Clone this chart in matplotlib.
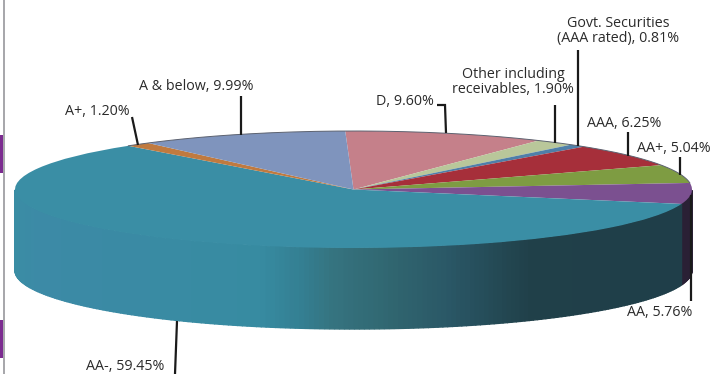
import numpy as np
import matplotlib
matplotlib.use("Agg")
import matplotlib.pyplot as plt
from matplotlib.colors import LinearSegmentedColormap
from matplotlib.patches import Rectangle

categories = ["D", "Other including\nreceivables", "Govt. Securities\n(AAA rated)",
              "AAA", "AA+", "AA", "AA-", "A+", "A & below"]
values = [9.60, 1.90, 0.81, 6.25, 5.04, 5.76, 59.45, 1.20, 9.99]
top_colors = ["#c5808a", "#b9c79a", "#4f7fa8", "#a62f3a", "#7e9c42", "#7b5090", "#3a8ea5", "#c07a3f", "#7f94bd"]

W, H = 712, 374
CX, CY, RX, RY, DEPTH = 353.5, 189.5, 338.5, 58.5, 81
START = 91.4

plt.rcParams["font.family"] = ["Open Sans", "DejaVu Sans"]
fig = plt.figure(figsize=(W / 100, H / 100), dpi=100, facecolor="white")

# base axes in pixel coordinates: rim of the pie and page decoration
base = fig.add_axes([0, 0, 1, 1], zorder=1)
base.set_xlim(0, W); base.set_ylim(H, 0); base.axis("off")
base.add_patch(Rectangle((3, 0), 2, H, color="#a8a8ac", lw=0))
for y0, y1 in [(135, 172.5), (320, 358)]:
    base.add_patch(Rectangle((0, y0), 3, y1 - y0, color="#7b2b8f", lw=0))

rim = LinearSegmentedColormap.from_list("rim", [
    (0.00, "#3a8da4"), (0.03, "#3c8aa6"), (0.36, "#378ba1"), (0.42, "#347f92"),
    (0.47, "#35737f"), (0.56, "#30656f"), (0.64, "#2a5766"), (0.76, "#204049"), (1.0, "#1f3e49")])

edges = START - np.cumsum([0] + values) * 3.6
for i, name in enumerate(categories):
    a0, a1 = edges[i + 1], edges[i]
    th = np.linspace(a0, a1, max(3, int((a1 - a0) * 1.2)))
    th = th[np.sin(np.radians(th)) <= 0]
    for t0, t1 in zip(th[:-1], th[1:]):
        x0, x1 = CX + RX * np.cos(np.radians([t0, t1]))
        y0, y1 = CY - RY * np.sin(np.radians([t0, t1]))
        col = "#2a2035" if name == "AA" else rim((min(x0, x1) - 15) / 677)
        base.fill([x0, x1, x1, x0], [y0, y1, y1 + DEPTH, y0 + DEPTH], color=col, lw=1.0, ec=col)

# top face
pie_ax = fig.add_axes([(CX - RX) / W, (H - CY - RY) / H, 2 * RX / W, 2 * RY / H], zorder=2)
pie_ax.pie(values, colors=top_colors, startangle=START, counterclock=False, radius=1)
pie_ax.set_aspect("auto")
pie_ax.set_xlim(-1, 1); pie_ax.set_ylim(-1, 1)
pie_ax.patch.set_alpha(0)
back = np.radians(np.linspace(edges[5], edges[7] + 360, 200))
pie_ax.plot(np.cos(back), np.sin(back), color="#5c6270", lw=0.7, clip_on=False)

# labels and leader lines
over = fig.add_axes([0, 0, 1, 1], zorder=3)
over.set_xlim(0, W); over.set_ylim(H, 0); over.axis("off")
pct = dict(zip(categories, values))
label_pos = {
    "A & below": (196, 86), "A+": (97, 111), "D": (405, 101),
    "Other including\nreceivables": (513, 82), "Govt. Securities\n(AAA rated)": (618, 31),
    "AAA": (624, 123), "AA+": (674, 148), "AA": (660, 312),
    "AA-": (125, 366),
}
for name, (x, y) in label_pos.items():
    over.text(x, y, f"{name}, {pct[name]:.2f}%", ha="center", va="center", fontsize=10.3,
              color="#2b2b2b", linespacing=0.95)

leaders = [
    [(132, 117), (138, 145)], [(241, 96), (241, 135)], [(437, 105), (445, 105), (446, 133)],
    [(555, 105), (555, 143)], [(578, 50), (578, 146)], [(628, 132), (628, 156)],
    [(680, 157), (680, 175)], [(691, 195), (691, 301)], [(177, 321), (175, 374)],
]
for pts in leaders:
    xs, ys = zip(*pts)
    over.plot(xs, ys, color="#1a1a1a", lw=1.6, solid_capstyle="butt", solid_joinstyle="miter")

fig.savefig("out.png", dpi=100)
